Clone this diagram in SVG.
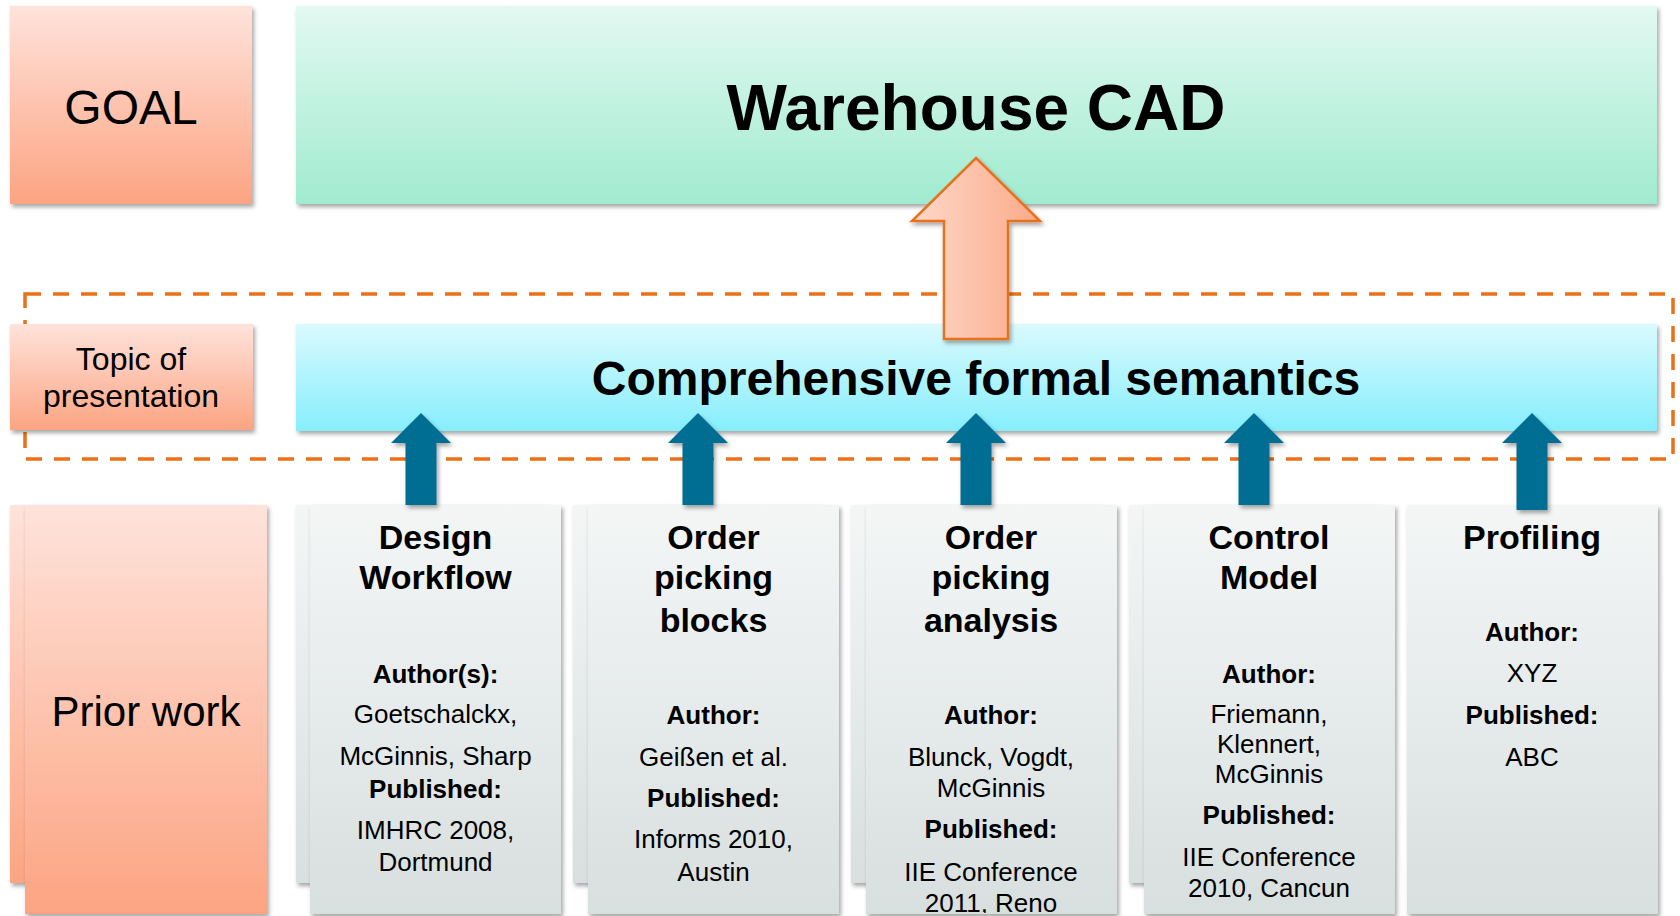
<svg xmlns="http://www.w3.org/2000/svg" xmlns:xlink="http://www.w3.org/1999/xlink" width="1680" height="916" viewBox="0 0 1680 916">
<defs>
<linearGradient id="gOrange" x1="0" y1="0" x2="0" y2="1"><stop offset="0" stop-color="#fee3db"/><stop offset="1" stop-color="#fca482"/></linearGradient>
<linearGradient id="gGreen" x1="0" y1="0" x2="0" y2="1"><stop offset="0" stop-color="#e3f9f1"/><stop offset="1" stop-color="#a0ebd0"/></linearGradient>
<linearGradient id="gCyan" x1="0" y1="0" x2="0" y2="1"><stop offset="0" stop-color="#dafafe"/><stop offset="1" stop-color="#86eefc"/></linearGradient>
<linearGradient id="gCard" x1="0" y1="0" x2="0" y2="1"><stop offset="0" stop-color="#f4f6f6"/><stop offset="1" stop-color="#d8dfdf"/></linearGradient>
<linearGradient id="gArrow" x1="0" y1="0" x2="1" y2="0"><stop offset="0" stop-color="#fed8c9"/><stop offset="1" stop-color="#fbaa89"/></linearGradient>
<filter id="sh" x="-10%" y="-10%" width="130%" height="130%"><feDropShadow dx="2" dy="3" stdDeviation="2" flood-color="#000" flood-opacity="0.35"/></filter>
<path id="barrow" d="M0,413 L30,443 L15.5,443 L15.5,505 L-15.5,505 L-15.5,443 L-30,443 Z"/>
<clipPath id="clip3"><rect x="866" y="505" width="251" height="408"/></clipPath>
<style>
text{font-family:"Liberation Sans",Arial,sans-serif;fill:#000;text-anchor:middle}
.t{font-weight:bold;font-size:34px}
.b{font-weight:bold;font-size:26px}
.r{font-size:26px}
.card{fill:url(#gCard);filter:url(#sh)}
.blue{fill:#006d92;filter:url(#sh)}
</style>
</defs>
<rect width="1680" height="916" fill="#fff"/>

<g id="dashed-frame">
<rect x="25" y="294" width="1648" height="165" fill="none" stroke="#ec7017" stroke-width="3.5" stroke-dasharray="16 12"/>
</g>

<g id="goal">
<rect x="10" y="6" width="242" height="198" fill="url(#gOrange)" filter="url(#sh)"/>
<text x="131" y="124" font-size="48">GOAL</text>
</g>
<g id="warehouse-cad">
<rect x="296" y="6" width="1361" height="198" fill="url(#gGreen)" filter="url(#sh)"/>
<text x="976" y="130" font-size="64" font-weight="bold">Warehouse CAD</text>
</g>
<g id="topic">
<rect x="10" y="324" width="243" height="106" fill="url(#gOrange)" filter="url(#sh)"/>
<text x="131" y="370" font-size="32">Topic of</text>
<text x="131" y="407" font-size="32">presentation</text>
</g>
<g id="semantics">
<rect x="296" y="324" width="1361" height="107" fill="url(#gCyan)" filter="url(#sh)"/>
<text x="976" y="395" font-size="48" font-weight="bold">Comprehensive formal semantics</text>
</g>

<g id="prior-work">
<rect x="10" y="505" width="242" height="378" fill="url(#gOrange)" filter="url(#sh)"/>
<rect x="25" y="505" width="242" height="409" fill="url(#gOrange)" filter="url(#sh)"/>
<text x="146" y="726" font-size="42">Prior work</text>
</g>

<g id="card-design-workflow">
<rect x="296" y="505" width="251" height="378" class="card"/>
<rect x="310" y="505" width="251" height="409" class="card"/>
<text class="t" x="435.5" y="549">Design</text>
<text class="t" x="435.5" y="589">Workflow</text>
<text class="b" x="435.5" y="683">Author(s):</text>
<text class="r" x="435.5" y="723">Goetschalckx,</text>
<text class="r" x="435.5" y="765">McGinnis, Sharp</text>
<text class="b" x="435.5" y="798">Published:</text>
<text class="r" x="435.5" y="839">IMHRC 2008,</text>
<text class="r" x="435.5" y="871">Dortmund</text>
</g>

<g id="card-order-picking-blocks">
<rect x="573" y="505" width="251" height="378" class="card"/>
<rect x="588" y="505" width="251" height="409" class="card"/>
<text class="t" x="713.5" y="549">Order</text>
<text class="t" x="713.5" y="589">picking</text>
<text class="t" x="713.5" y="632">blocks</text>
<text class="b" x="713.5" y="724">Author:</text>
<text class="r" x="713.5" y="766">Geißen et al.</text>
<text class="b" x="713.5" y="807">Published:</text>
<text class="r" x="713.5" y="848">Informs 2010,</text>
<text class="r" x="713.5" y="881">Austin</text>
</g>

<g id="card-order-picking-analysis">
<rect x="851" y="505" width="251" height="378" class="card"/>
<rect x="866" y="505" width="251" height="409" class="card"/>
<g clip-path="url(#clip3)">
<text class="t" x="991" y="549">Order</text>
<text class="t" x="991" y="589">picking</text>
<text class="t" x="991" y="632">analysis</text>
<text class="b" x="991" y="724">Author:</text>
<text class="r" x="991" y="766">Blunck, Vogdt,</text>
<text class="r" x="991" y="797">McGinnis</text>
<text class="b" x="991" y="838">Published:</text>
<text class="r" x="991" y="881">IIE Conference</text>
<text class="r" x="991" y="912">2011, Reno</text>
</g>
</g>

<g id="card-control-model">
<rect x="1129" y="505" width="251" height="378" class="card"/>
<rect x="1144" y="505" width="251" height="409" class="card"/>
<text class="t" x="1269" y="549">Control</text>
<text class="t" x="1269" y="589">Model</text>
<text class="b" x="1269" y="683">Author:</text>
<text class="r" x="1269" y="723">Friemann,</text>
<text class="r" x="1269" y="753">Klennert,</text>
<text class="r" x="1269" y="783">McGinnis</text>
<text class="b" x="1269" y="824">Published:</text>
<text class="r" x="1269" y="866">IIE Conference</text>
<text class="r" x="1269" y="897">2010, Cancun</text>
</g>

<g id="card-profiling">
<rect x="1407" y="505" width="251" height="409" class="card"/>
<text class="t" x="1532" y="549">Profiling</text>
<text class="b" x="1532" y="641">Author:</text>
<text class="r" x="1532" y="682">XYZ</text>
<text class="b" x="1532" y="724">Published:</text>
<text class="r" x="1532" y="766">ABC</text>
</g>

<g id="connectors">
<use xlink:href="#barrow" x="421" class="blue"/>
<use xlink:href="#barrow" x="698" class="blue"/>
<use xlink:href="#barrow" x="976" class="blue"/>
<use xlink:href="#barrow" x="1254" class="blue"/>
<path d="M1532,413 L1562,443 L1547.5,443 L1547.5,510 L1516.5,510 L1516.5,443 L1502,443 Z" class="blue"/>
<path d="M976,158 L1040,221 L1008,221 L1008,339 L944,339 L944,221 L912,221 Z" fill="url(#gArrow)" stroke="#e8711f" stroke-width="2.5" stroke-linejoin="miter" filter="url(#sh)"/>
</g>
</svg>
